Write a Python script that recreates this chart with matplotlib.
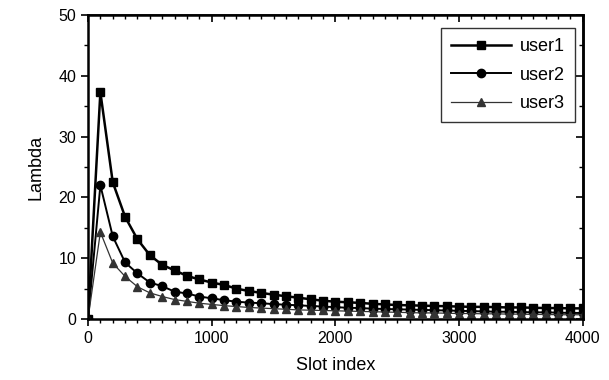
import numpy as np
import matplotlib
matplotlib.use("Agg")
import matplotlib.pyplot as plt
from matplotlib.ticker import MultipleLocator

plt.rcParams['font.family'] = ['Liberation Sans', 'DejaVu Sans']

# slot index, one point every 100 slots
slots = list(range(0, 4001, 100))

user1 = [0, 37.3, 22.5, 16.8, 13.1, 10.5, 8.9, 8.0, 7.1, 6.5,
         6.0, 5.6, 5.0, 4.6, 4.3, 4.0, 3.75, 3.5, 3.25, 3.0,
         2.85, 2.75, 2.65, 2.5, 2.4, 2.3, 2.25, 2.2, 2.15, 2.1,
         2.05, 2.0, 2.0, 1.95, 1.9, 1.9, 1.85, 1.8, 1.8, 1.75,
         1.75]
user2 = [0, 22.0, 13.6, 9.3, 7.5, 6.0, 5.4, 4.5, 4.2, 3.7,
         3.4, 3.1, 2.85, 2.7, 2.6, 2.45, 2.35, 2.25, 2.15, 2.05,
         1.95, 1.85, 1.8, 1.7, 1.65, 1.6, 1.55, 1.5, 1.45, 1.4,
         1.35, 1.3, 1.25, 1.2, 1.2, 1.15, 1.1, 1.1, 1.05, 1.0,
         1.0]
user3 = [0, 14.3, 9.2, 7.0, 5.3, 4.3, 3.7, 3.2, 2.9, 2.6,
         2.4, 2.2, 2.05, 1.9, 1.8, 1.7, 1.6, 1.5, 1.45, 1.4,
         1.35, 1.3, 1.25, 1.2, 1.15, 1.1, 1.05, 1.0, 1.0, 0.95,
         0.9, 0.9, 0.85, 0.85, 0.8, 0.8, 0.75, 0.75, 0.7, 0.7,
         0.7]

fig = plt.figure(figsize=(6.09, 3.8), dpi=100)
ax = fig.add_axes([0.1445, 0.1605, 0.8125, 0.80])

ax.plot(slots, user1, color='black', lw=1.8, marker='s', ms=6, label='user1')
ax.plot(slots, user2, color='black', lw=1.4, marker='o', ms=6, label='user2')
ax.plot(slots, user3, color='#333333', lw=0.9, marker='^', ms=6, label='user3')

ax.set_xlim(0, 4000)
ax.set_ylim(0, 50)
ax.xaxis.set_major_locator(MultipleLocator(1000))
ax.xaxis.set_minor_locator(MultipleLocator(100))
ax.yaxis.set_major_locator(MultipleLocator(10))
ax.yaxis.set_minor_locator(MultipleLocator(5))
ax.tick_params(which='major', direction='out', length=5, width=1.2, labelsize=11.5)
ax.tick_params(which='minor', direction='out', length=3, width=1.0)

# mirrored ticks on top and right, pointing inward
top = ax.secondary_xaxis('top')
top.xaxis.set_major_locator(MultipleLocator(1000))
top.xaxis.set_minor_locator(MultipleLocator(100))
top.tick_params(which='major', direction='in', length=5, width=1.2, labeltop=False)
top.tick_params(which='minor', direction='in', length=3, width=1.0)
right = ax.secondary_yaxis('right')
right.yaxis.set_major_locator(MultipleLocator(10))
right.yaxis.set_minor_locator(MultipleLocator(5))
right.tick_params(which='major', direction='in', length=5, width=1.2, labelright=False)
right.tick_params(which='minor', direction='in', length=3, width=1.0)

for s in ax.spines.values():
    s.set_linewidth(1.8)
for s in top.spines.values():
    s.set_linewidth(1.2)
for s in right.spines.values():
    s.set_linewidth(1.8)

ax.set_xlabel('Slot index', fontsize=13, labelpad=8)
ax.set_ylabel('Lambda', fontsize=13, labelpad=10)

leg = ax.legend(loc='upper right', fontsize=13, frameon=True, fancybox=False,
                edgecolor='black', handlelength=3.3, borderpad=0.55,
                labelspacing=0.65, handletextpad=0.5, borderaxespad=0,
                bbox_to_anchor=(0.984, 0.957))
leg.get_frame().set_linewidth(1.0)

fig.savefig('out.png', dpi=100)
